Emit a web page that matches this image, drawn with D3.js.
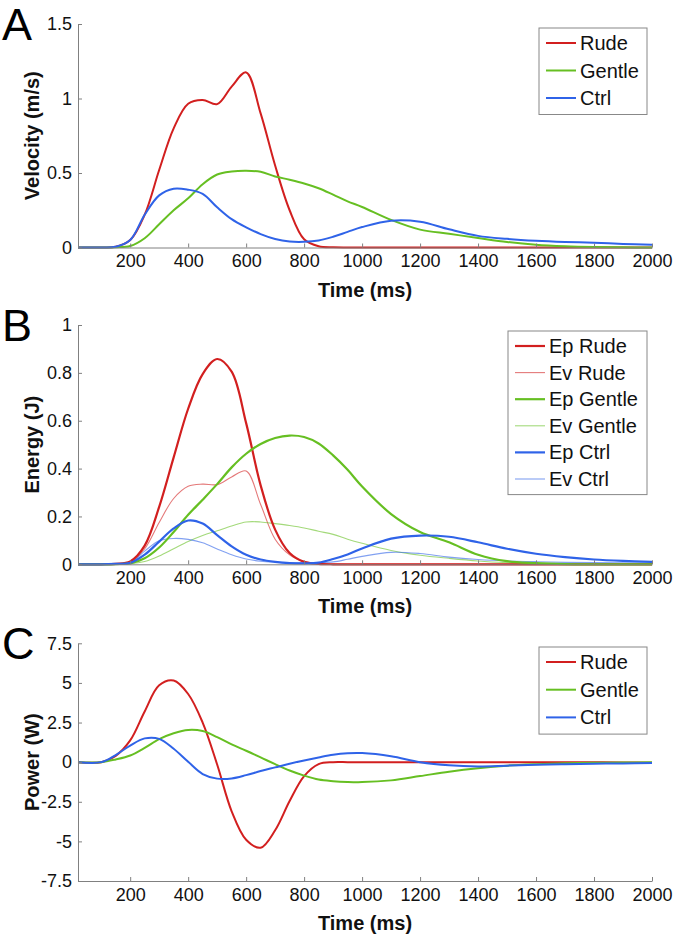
<!DOCTYPE html>
<html>
<head>
<meta charset="utf-8">
<script src="https://cdn.jsdelivr.net/npm/d3@7"></script>
<style>
  html, body { margin: 0; padding: 0; background: #fff; }
  svg { display: block; font-family: "Liberation Sans", Arial, Helvetica, sans-serif; }
</style>
</head>
<body>
<svg id="chart" width="674" height="936"></svg>
<script>
// ---------- DATA ----------
const time = [20, 100, 150, 200, 250, 300, 350, 400, 450, 500, 550, 600, 650, 700, 750, 800, 850, 900, 950, 1000,
              1100, 1200, 1300, 1400, 1500, 1600, 1700, 1800, 1900, 2000];
const xTicks = [200, 400, 600, 800, 1000, 1200, 1400, 1600, 1800, 2000];

// Panel A: velocity (m/s)
const velRude   = [0, 0, 0.005, 0.05, 0.22, 0.52, 0.8, 0.965, 0.99, 0.962, 1.08, 1.175, 0.9, 0.55, 0.25, 0.055, 0.008, 0.001, 0, 0,
                   0, 0, 0, 0, 0, 0, 0, 0, 0, 0];
const velGentle = [0, 0, 0.002, 0.01, 0.062, 0.156, 0.25, 0.33, 0.425, 0.49, 0.51, 0.515, 0.508, 0.477, 0.455, 0.43, 0.398, 0.355, 0.31, 0.272,
                   0.185, 0.12, 0.092, 0.064, 0.037, 0.018, 0.008, 0.003, 0.001, 0];
const velCtrl   = [0, 0, 0.005, 0.05, 0.22, 0.35, 0.395, 0.388, 0.36, 0.27, 0.19, 0.135, 0.09, 0.057, 0.04, 0.038, 0.047, 0.072, 0.105, 0.137,
                   0.18, 0.173, 0.122, 0.078, 0.058, 0.045, 0.037, 0.032, 0.024, 0.018];
const velTicks = [0, 0.5, 1, 1.5];

// Panel B: energy (J)
const epRude   = [0, 0, 0.002, 0.012, 0.078, 0.24, 0.447, 0.65, 0.795, 0.858, 0.805, 0.59, 0.33, 0.145, 0.047, 0.01, 0.002, 0, 0, 0,
                  0, 0, 0, 0, 0, 0, 0, 0, 0, 0];
const evRude   = [0, 0, 0.002, 0.008, 0.065, 0.175, 0.275, 0.326, 0.335, 0.333, 0.365, 0.39, 0.25, 0.105, 0.04, 0.012, 0.003, 0.001, 0, 0,
                  0, 0, 0, 0, 0, 0, 0, 0, 0, 0];
const epGentle = [0, 0, 0.001, 0.004, 0.025, 0.07, 0.135, 0.207, 0.27, 0.335, 0.405, 0.462, 0.503, 0.528, 0.538, 0.532, 0.505, 0.455, 0.395, 0.325,
                  0.21, 0.135, 0.092, 0.04, 0.013, 0.005, 0.001, 0, 0, 0];
const evGentle = [0, 0, 0, 0.002, 0.012, 0.035, 0.065, 0.095, 0.12, 0.14, 0.16, 0.177, 0.177, 0.17, 0.162, 0.152, 0.138, 0.125, 0.105, 0.088,
                  0.058, 0.038, 0.025, 0.014, 0.007, 0.003, 0.001, 0, 0, 0];
const epCtrl   = [0, 0, 0.002, 0.006, 0.04, 0.095, 0.15, 0.183, 0.17, 0.122, 0.075, 0.04, 0.02, 0.01, 0.005, 0.004, 0.007, 0.022, 0.041, 0.066,
                  0.107, 0.12, 0.115, 0.092, 0.065, 0.044, 0.03, 0.02, 0.014, 0.01];
const evCtrl   = [0, 0, 0.002, 0.006, 0.055, 0.098, 0.108, 0.104, 0.09, 0.064, 0.04, 0.022, 0.013, 0.009, 0.007, 0.006, 0.007, 0.01, 0.021, 0.033,
                  0.05, 0.045, 0.03, 0.02, 0.014, 0.011, 0.008, 0.007, 0.006, 0.005];
const energyTicks = [0, 0.2, 0.4, 0.6, 0.8, 1];

// Panel C: power (W)
const powRude   = [0, 0, 0.4, 1.37, 3.2, 4.85, 5.15, 4.3, 2.5, -0.15, -3.1, -4.9, -5.4, -4.3, -2.45, -0.88, -0.12, 0, 0, 0,
                   0, 0, 0, 0, 0, 0, 0, 0, -0.02, -0.03];
const powGentle = [0, 0, 0.17, 0.42, 0.9, 1.45, 1.82, 2.03, 1.96, 1.58, 1.12, 0.72, 0.3, -0.13, -0.53, -0.85, -1.1, -1.2, -1.25, -1.26,
                   -1.15, -0.88, -0.6, -0.38, -0.22, -0.13, -0.07, -0.04, -0.02, -0.01];
const powCtrl   = [0, 0, 0.45, 1.05, 1.5, 1.47, 0.84, 0.02, -0.75, -1.04, -1.03, -0.82, -0.56, -0.33, -0.1, 0.11, 0.3, 0.47, 0.56, 0.57,
                   0.37, 0.0, -0.2, -0.27, -0.22, -0.16, -0.13, -0.1, -0.08, -0.06];
const powerTicks = [-7.5, -5, -2.5, 0, 2.5, 5, 7.5];

// ---------- STYLE ----------
const RED = "#d21f1f", GREEN = "#66bf22", BLUE = "#2f63e8";
const FONT = "'Liberation Sans', Arial, Helvetica, sans-serif";

const svg = d3.select("#chart");

const panels = [
  { letter: "A", ylabel: "Velocity (m/s)", domain: [0, 1.5], top: 24, bottom: 247.5, ticks: velTicks,
    legend: { x: 539, y: 28, w: 108, rowH: 27.5 },
    series: [
      { name: "Rude", values: velRude, color: RED, width: 2, opacity: 1 },
      { name: "Gentle", values: velGentle, color: GREEN, width: 2, opacity: 1 },
      { name: "Ctrl", values: velCtrl, color: BLUE, width: 2, opacity: 1 }
    ] },
  { letter: "B", ylabel: "Energy (J)", domain: [0, 1], top: 325, bottom: 564.3, ticks: energyTicks,
    legend: { x: 508, y: 331, w: 139, rowH: 26.6 },
    series: [
      { name: "Ep Rude", values: epRude, color: RED, width: 2.2, opacity: 1 },
      { name: "Ev Rude", values: evRude, color: RED, width: 1.1, opacity: 0.6 },
      { name: "Ep Gentle", values: epGentle, color: GREEN, width: 2.2, opacity: 1 },
      { name: "Ev Gentle", values: evGentle, color: GREEN, width: 1.1, opacity: 0.6 },
      { name: "Ep Ctrl", values: epCtrl, color: BLUE, width: 2.2, opacity: 1 },
      { name: "Ev Ctrl", values: evCtrl, color: BLUE, width: 1.1, opacity: 0.6 }
    ] },
  { letter: "C", ylabel: "Power (W)", domain: [-7.5, 7.5], top: 643.3, bottom: 881, ticks: powerTicks,
    legend: { x: 539, y: 647, w: 108, rowH: 27.7 },
    series: [
      { name: "Rude", values: powRude, color: RED, width: 2, opacity: 1 },
      { name: "Gentle", values: powGentle, color: GREEN, width: 2, opacity: 1 },
      { name: "Ctrl", values: powCtrl, color: BLUE, width: 2, opacity: 1 }
    ] }
];

const x = d3.scaleLinear().domain([20, 2000]).range([78, 652]);

panels.forEach(p => {
  const y = d3.scaleLinear().domain(p.domain).range([p.bottom, p.top]);
  const g = svg.append("g");

  const line = d3.line()
    .x((d, i) => x(time[i]))
    .y(d => y(d))
    .curve(d3.curveCatmullRom.alpha(0.5));

  const order = p.series.slice().sort((a, b) => a.width - b.width);
  order.forEach(s => {
    g.append("path")
      .datum(s.values)
      .attr("d", line)
      .attr("fill", "none")
      .attr("stroke", s.color)
      .attr("stroke-opacity", s.opacity)
      .attr("stroke-width", s.width)
      .attr("stroke-linejoin", "round");
  });

  // x axis
  const xAxis = d3.axisBottom(x).tickValues(xTicks).tickSizeInner(-4).tickSizeOuter(0).tickPadding(10).tickFormat(d3.format("d"));
  const xg = g.append("g").attr("transform", `translate(0,${p.bottom})`).call(xAxis);
  xg.select(".domain").attr("stroke", "#808080").attr("stroke-width", 1);
  xg.selectAll(".tick line").attr("stroke", "#808080");
  xg.selectAll(".tick text").attr("font-size", 18).attr("font-family", FONT).attr("fill", "#111").attr("dy", "0.71em").attr("y", 7);

  // y axis
  const yAxis = d3.axisLeft(y).tickValues(p.ticks).tickSizeInner(-4).tickSizeOuter(0).tickPadding(9).tickFormat(d => String(d));
  const yg = g.append("g").attr("transform", `translate(78,0)`).call(yAxis);
  yg.select(".domain").attr("stroke", "#808080").attr("stroke-width", 1);
  yg.selectAll(".tick line").attr("stroke", "#808080");
  yg.selectAll(".tick text").attr("font-size", 18).attr("font-family", FONT).attr("fill", "#111").attr("x", -6);

  // axis labels
  g.append("text")
    .attr("x", 365).attr("y", p.bottom + 49)
    .attr("text-anchor", "middle")
    .attr("font-size", 20).attr("font-weight", "bold").attr("font-family", FONT).attr("fill", "#111")
    .text("Time (ms)");
  g.append("text")
    .attr("transform", `translate(39,${(p.top + p.bottom) / 2}) rotate(-90)`)
    .attr("text-anchor", "middle")
    .attr("font-size", 20).attr("font-weight", "bold").attr("font-family", FONT).attr("fill", "#111")
    .text(p.ylabel);

  // panel letter
  g.append("text")
    .attr("x", 2).attr("y", p.top + 16)
    .attr("font-size", 45).attr("font-family", FONT).attr("fill", "#000")
    .text(p.letter);

  // legend
  const L = p.legend;
  const lg = g.append("g").attr("transform", `translate(${L.x},${L.y})`);
  const h = p.series.length * L.rowH + 4;
  lg.append("rect").attr("width", L.w).attr("height", h)
    .attr("fill", "#fff").attr("stroke", "#888").attr("stroke-width", 1);
  p.series.forEach((s, i) => {
    const cy = 15 + i * L.rowH;
    lg.append("line").attr("x1", 7).attr("x2", 37).attr("y1", cy).attr("y2", cy)
      .attr("stroke", s.color).attr("stroke-opacity", s.opacity).attr("stroke-width", s.width);
    lg.append("text").attr("x", 41).attr("y", cy).attr("dy", "0.35em")
      .attr("font-size", 20).attr("font-family", FONT).attr("fill", "#111")
      .text(s.name);
  });
});
</script>
</body>
</html>
